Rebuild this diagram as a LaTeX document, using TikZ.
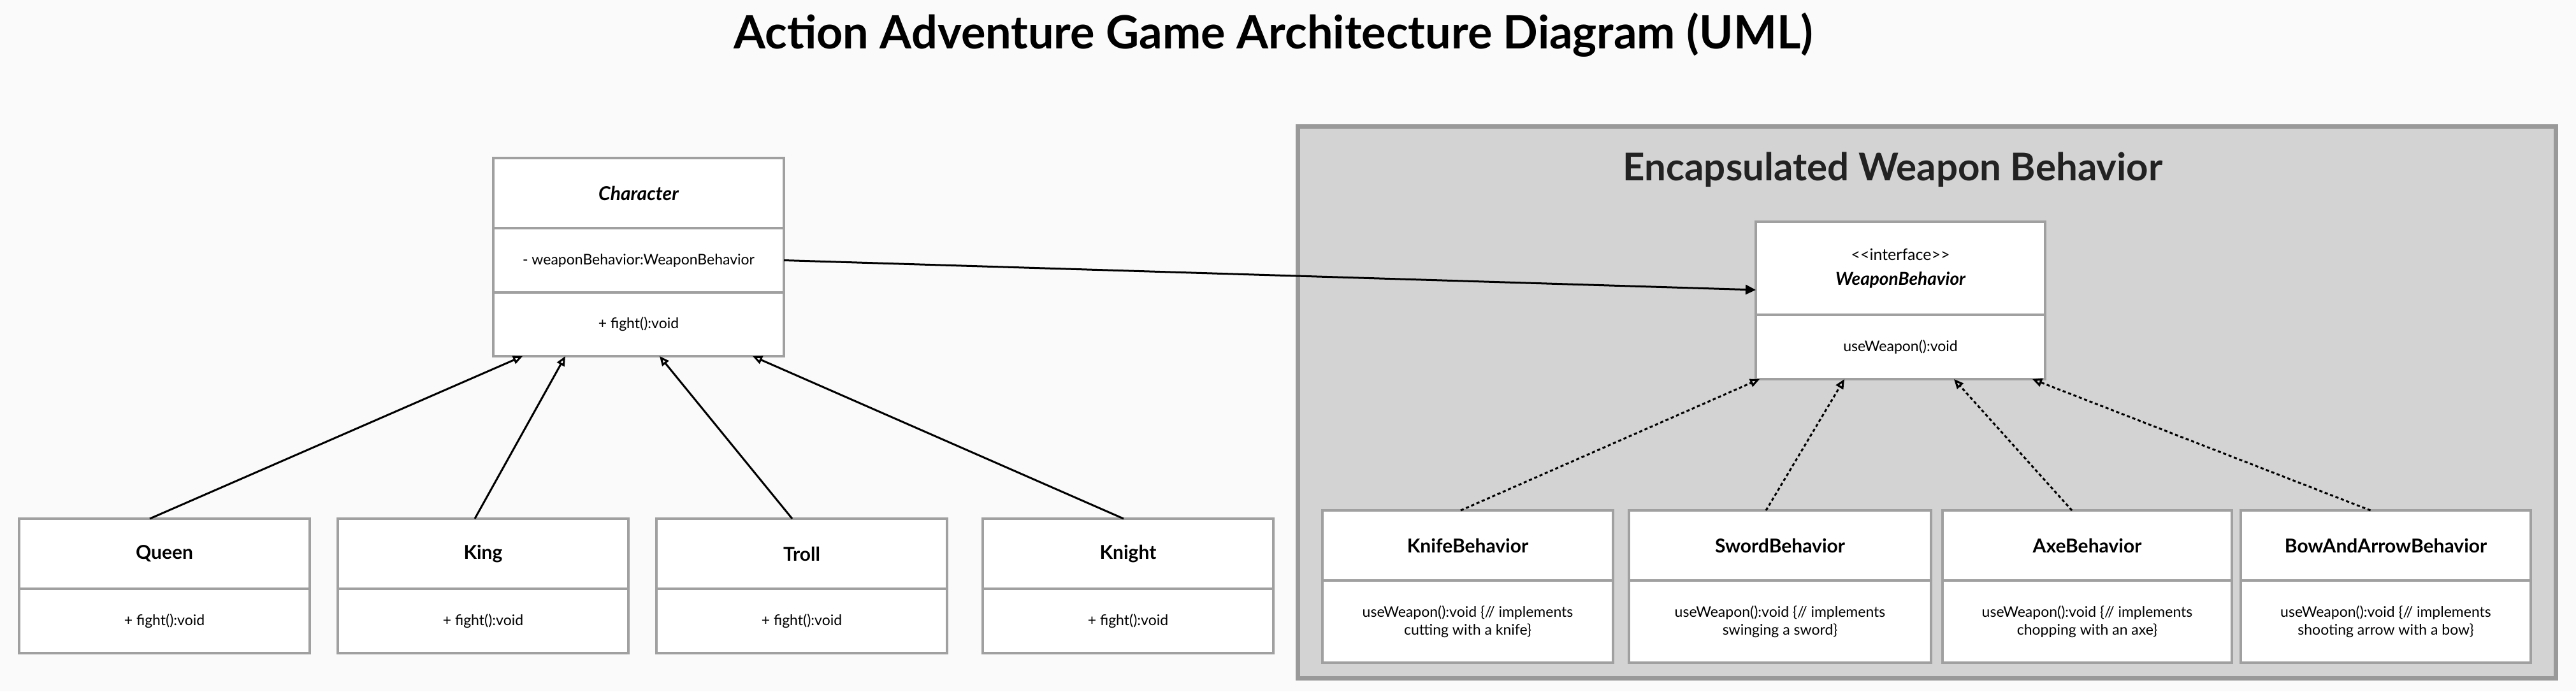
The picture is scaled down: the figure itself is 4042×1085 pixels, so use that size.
\documentclass[tikz,border=0pt]{standalone}
\usepackage{fontspec}
\setmainfont{Lato}
\usetikzlibrary{positioning, arrows.meta}
\definecolor{pagebg}{HTML}{FAFAFA}
\definecolor{boxline}{HTML}{A0A0A0}
\definecolor{groupfill}{HTML}{D3D3D3}
\definecolor{groupline}{HTML}{999999}
\definecolor{headtext}{HTML}{222222}
\tikzset{>={Triangle[length=16pt,width=15pt]}}

\begin{document}
\begin{tikzpicture}[
    x = 1pt, y = -1pt,
    node distance = 0pt,
    box/.style = {draw=boxline, fill=white, line width=4pt,
        outer sep = 0pt, inner sep = 0pt, align=center},
    head/.style = {box, minimum height=110pt,
        font=\fontsize{30}{36}\selectfont\bfseries},
    body/.style = {box, font=\fontsize{23}{28}\selectfont},
    inherit/.style = {line width=3pt, -{Triangle[open, length=15pt, width=13pt]}},
    realize/.style = {inherit, dash pattern=on 5pt off 4pt}
  ]
  \useasboundingbox (0,0) rectangle (4042,1085);
  \fill[pagebg] (0,0) rectangle (4042,1085);

  \node[anchor=base, font=\fontsize{72}{84}\selectfont\bfseries] (TITLE) at (1998,76)
    {Action Adventure Game Architecture Diagram (UML)};

  % group of the weapon behaviours
  \node[draw=groupline, fill=groupfill, line width=7pt, minimum width=1974pt,
    minimum height=866pt] (GROUP) at (3023.5,631.5) {};
  \node[anchor=base, text=headtext, font=\fontsize{60}{70}\selectfont\bfseries]
    (GROUPTITLE) at (2970,283) {Encapsulated Weapon Behavior};

  % abstract class
  \node[head, minimum width=456pt, font=\fontsize{30}{36}\selectfont\bfseries\itshape]
    (CHAR) at (1002,303) {Character};
  \node[body, minimum width=456pt, minimum height=101pt, below=of CHAR] (CHARA)
    {- weaponBehavior:WeaponBehavior};
  \node[body, minimum width=456pt, minimum height=100pt, below=of CHARA] (CHARM)
    {+ fight():void};

  % interface
  \node[box, minimum width=454pt, minimum height=146pt, font=\fontsize{25}{39}\selectfont]
    (IFACE) at (2982,421)
    {{<}{<}interface{>}{>}\\{\fontsize{28}{39}\selectfont\bfseries\itshape WeaponBehavior}};
  \node[body, minimum width=454pt, minimum height=101pt, below=of IFACE] (IFACEM)
    {useWeapon():void};

  \draw[line width=3pt, ->] (CHARA.east) -- ([yshift=-34pt]IFACE.west);

  \foreach \cls/\cx/\ox/\tx in {Queen/258/-23pt/-182pt, King/758/-13pt/-115pt,
      Troll/1258/-15pt/33pt, Knight/1770/-7pt/179pt} {
    \node[head, minimum width=456pt] (\cls) at (\cx,869) {\cls};
    \node[body, minimum width=456pt, minimum height=101pt, below=of \cls] (\cls-m)
      {+ fight():void};
    \draw[inherit] ([xshift=\ox]\cls.north) -- ([xshift=\tx]CHARM.south);
  }

  \foreach \cls/\cx/\w/\what/\ox/\tx in {
      Knife/2303/456pt/cutting with a knife/-11pt/-221pt,
      Sword/2793/474pt/swinging a sword/-22pt/-88pt,
      Axe/3275/454pt/chopping with an axe/-24pt/84pt,
      BowAndArrow/3743.5/455pt/shooting arrow with a bow/-24pt/207pt} {
    \node[head, minimum width=\w] (\cls) at (\cx,856) {\cls Behavior};
    \node[body, minimum width=\w, minimum height=129pt, below=of \cls] (\cls-m)
      {useWeapon():void \{// implements\\\what\}};
    \draw[realize] ([xshift=\ox]\cls.north) -- ([xshift=\tx]IFACEM.south);
  }
\end{tikzpicture}
\end{document}
